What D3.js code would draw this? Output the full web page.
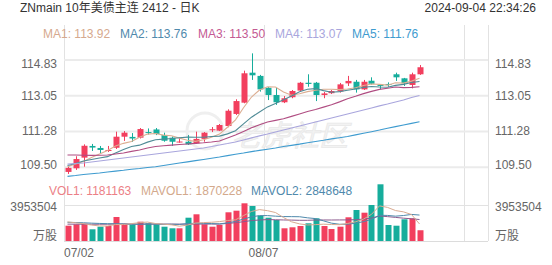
<!DOCTYPE html>
<html>
<head>
<meta charset="utf-8">
<script src="https://cdn.jsdelivr.net/npm/d3@7"></script>
<style>
  body { margin: 0; background: #fff; }
  svg text { font-family: "Liberation Sans", Arial, "Noto Sans CJK SC", sans-serif; }
</style>
</head>
<body>
<div class="visHolder"></div>
<script>
const width = 552;
const height = 265;

const dates = ["07/02","07/03","07/05","07/08","07/09","07/10","07/11","07/12","07/15","07/16",
  "07/17","07/18","07/19","07/22","07/23","07/24","07/25","07/26","07/29","07/30",
  "07/31","08/01","08/02","08/05","08/06","08/07","08/08","08/09","08/12","08/13",
  "08/14","08/15","08/16","08/19","08/20","08/21","08/22","08/23","08/26","08/27",
  "08/28","08/29","08/30","09/03","09/04"];

const open = [109.27,109.45,109.98,110.56,110.46,110.31,110.47,111.02,111.01,110.97,
  111.25,111.38,111.10,110.97,110.75,110.77,110.69,110.91,111.34,111.32,
  111.55,112.15,112.71,114.20,114.04,113.45,113.09,112.73,112.98,113.31,
  113.70,113.70,113.09,113.18,113.27,113.67,113.75,113.37,113.80,113.59,
  113.64,114.12,113.92,113.59,114.12];
const high = [109.52,110.05,110.64,110.66,110.56,110.56,111.27,111.30,111.20,111.45,
  111.43,111.45,111.22,111.03,110.97,111.10,111.27,111.25,111.50,111.65,
  112.38,112.88,114.30,115.16,114.09,113.49,113.45,113.04,113.34,113.74,
  114.12,113.74,113.24,113.34,113.69,114.04,113.84,113.84,113.97,113.62,
  113.72,114.20,113.94,114.20,114.58];
const low = [109.17,109.37,109.53,110.31,110.21,110.26,110.41,110.81,110.76,110.93,
  111.13,111.10,110.77,110.56,110.72,110.61,110.66,110.77,111.25,111.30,
  111.49,112.10,112.68,113.84,113.26,112.84,112.60,112.69,112.93,113.26,
  113.50,112.79,112.93,113.14,113.21,113.54,113.21,113.34,113.61,113.37,
  113.50,113.79,113.54,113.42,114.09];
const close = [109.47,109.91,110.57,110.48,110.36,110.36,111.02,111.22,110.93,111.40,
  111.20,111.15,110.82,110.77,110.78,110.64,110.91,111.22,111.39,111.60,
  112.31,112.79,114.17,114.07,113.37,113.09,112.73,112.93,113.29,113.70,
  113.64,113.09,113.17,113.29,113.62,113.79,113.37,113.75,113.65,113.54,
  113.59,113.97,113.67,114.12,114.47];

const ma1 = [109.53,109.66,109.79,109.99,110.16,110.34,110.56,110.69,110.78,110.99,
  111.15,111.18,111.10,111.07,110.95,110.84,110.79,110.87,110.99,111.15,
  111.49,111.86,112.46,112.99,113.34,113.50,113.49,113.24,113.08,113.15,
  113.26,113.33,113.38,113.38,113.36,113.39,113.45,113.56,113.64,113.62,
  113.58,113.70,113.68,113.78,113.92];
const ma2 = [109.59,109.69,109.81,109.89,109.96,110.03,110.21,110.38,110.53,110.60,
  110.75,110.87,110.90,110.93,110.97,111.00,110.99,110.99,111.03,111.05,
  111.16,111.32,111.66,111.99,112.25,112.50,112.67,112.85,113.04,113.25,
  113.38,113.41,113.31,113.23,113.26,113.33,113.39,113.47,113.51,113.49,
  113.48,113.57,113.62,113.71,113.76];
const ma3 = [110.11,110.11,110.10,110.09,110.10,110.11,110.16,110.21,110.29,110.36,
  110.46,110.53,110.57,110.60,110.63,110.66,110.69,110.72,110.76,110.81,
  110.96,111.10,111.28,111.46,111.61,111.75,111.83,111.91,112.03,112.15,
  112.27,112.37,112.49,112.61,112.75,112.91,113.03,113.16,113.27,113.37,
  113.43,113.49,113.46,113.47,113.50];
const ma4 = [109.66,109.69,109.71,109.76,109.81,109.86,109.91,109.96,110.01,110.06,
  110.11,110.16,110.21,110.26,110.31,110.36,110.41,110.46,110.53,110.61,
  110.68,110.76,110.86,110.96,111.06,111.15,111.25,111.35,111.45,111.55,
  111.65,111.75,111.85,111.95,112.05,112.15,112.25,112.35,112.45,112.55,
  112.64,112.74,112.84,112.97,113.07];
const ma5 = [109.05,109.09,109.14,109.18,109.22,109.27,109.31,109.35,109.40,109.44,
  109.49,109.53,109.59,109.65,109.71,109.77,109.83,109.89,109.95,110.01,
  110.08,110.15,110.21,110.28,110.34,110.40,110.46,110.53,110.59,110.65,
  110.72,110.78,110.84,110.91,110.97,111.03,111.11,111.19,111.27,111.35,
  111.44,111.52,111.60,111.68,111.76];

const volume = [1680000,1834000,1900000,1285000,1570000,1647000,2636000,1900000,1790000,2120000,
  1944000,1834000,1570000,1395000,1395000,2559000,2932000,1834000,1570000,1757000,
  3152000,3328000,4140000,3844000,2778000,2559000,2306000,1395000,1505000,1647000,
  1944000,2493000,1647000,1318000,1570000,2603000,3404000,3108000,3954000,6227000,
  1757000,1680000,2383000,2493000,1181163];
const mavol1 = [2100000,2000000,1900000,1750000,1654000,1647000,1808000,1808000,1909000,2019000,
  2078000,1918000,1852000,1773000,1628000,1751000,1970000,2023000,2058000,2130000,
  2249000,2328000,2789000,3244000,3448000,3330000,3125000,2576000,2109000,1882000,
  1759000,1797000,1847000,1810000,1794000,1926000,2108000,2401000,2928000,3859000,
  3690000,3345000,3200000,2908000,1870228];
const mavol2 = [2050000,2030000,2000000,1960000,1930000,1900000,1900000,1880000,1850000,1836000,
  1863000,1863000,1830000,1841000,1823000,1914000,1944000,1937000,1915000,1879000,
  2000000,2149000,2406000,2651000,2789000,2789000,2727000,2683000,2676000,2665000,
  2545000,2461000,2212000,1959000,1838000,1843000,1953000,2124000,2369000,2827000,
  2808000,2727000,2800000,2918000,2848648];
const mavol3 = [1850000,1850000,1845000,1840000,1840000,1845000,1850000,1850000,1855000,1855000,
  1860000,1860000,1855000,1855000,1850000,1855000,1860000,1860000,1860000,1858000,
  1931000,2006000,2118000,2246000,2306000,2352000,2335000,2310000,2296000,2272000,
  2272000,2305000,2309000,2305000,2314000,2316000,2340000,2403000,2523000,2746000,
  2676000,2594000,2506000,2439000,2359000];

const priceTicks = [114.83, 113.05, 111.28, 109.50];
const volTicks = [3953504];
const dateTicks = ["07/02", "08/07"];
const gridSlots = [0, 25, 50, 53];
const slots = 53;

const maNames = ["MA1", "MA2", "MA3", "MA4", "MA5"];
const maSeries = [ma1, ma2, ma3, ma4, ma5];
const maLine = ["#dcae92", "#4f8b96", "#b04d82", "#a9a6dd", "#3e9bcf"];
const maText = ["#d6a98e", "#4f89ac", "#c45a93", "#a9a6dd", "#3e9bcf"];
const maX = [43, 120, 198, 275, 352];

const volNames = ["VOL1", "MAVOL1", "MAVOL2"];
const volText = ["#ec7f86", "#d3a98c", "#4f89ac"];
const volX = [49, 141, 251];

const up = "#f23f5e";
const down = "#16ad9c";

const svg = d3.select(".visHolder")
  .append("svg")
  .attr("width", width)
  .attr("height", height);

const x = d3.scaleLinear().domain([0, slots]).range([63.5, 487.5]);
const cx = i => x(i + 0.5);
const y = d3.scaleLinear().domain([109.50, 114.83]).range([167.3, 60]);
const yv = d3.scaleLinear().domain([0, 3953504]).range([241, 205]);
const barW = 6;

// grid
svg.selectAll(".vgrid").data(gridSlots).enter()
  .append("line")
  .attr("x1", d => Math.round(x(d)) + 0.5)
  .attr("x2", d => Math.round(x(d)) + 0.5)
  .attr("y1", 25).attr("y2", 241)
  .style("stroke", "#e2e2e2");

svg.selectAll(".hgrid").data(priceTicks).enter()
  .append("line")
  .attr("x1", 64).attr("x2", 488)
  .attr("y1", d => y(d)).attr("y2", d => y(d))
  .style("stroke", "#ebebeb")
  .style("stroke-width", 2);

svg.selectAll(".vgridv").data(volTicks).enter()
  .append("line")
  .attr("x1", 64).attr("x2", 488)
  .attr("y1", d => Math.round(yv(d)) + 0.5).attr("y2", d => Math.round(yv(d)) + 0.5)
  .style("stroke", "#e2e2e2");

svg.append("line")
  .attr("x1", 64).attr("x2", 488)
  .attr("y1", yv(0) + 0.5).attr("y2", yv(0) + 0.5)
  .style("stroke", "#dcdcdc");

// watermark
svg.append("circle")
  .attr("cx", 205).attr("cy", 131).attr("r", 18)
  .style("fill", "none")
  .style("stroke", "#efefef")
  .style("stroke-width", 3);
svg.append("text")
  .attr("x", 232).attr("y", 146)
  .attr("font-size", 29)
  .attr("font-style", "italic")
  .style("fill", "#f3f3f3")
  .style("stroke", "#e9e9e9")
  .style("stroke-width", 0.8)
  .text("老虎社区");

// header
svg.append("text")
  .attr("x", 20).attr("y", 12)
  .attr("font-size", 12)
  .style("fill", "#333")
  .text("ZNmain 10年美债主连 2412 - 日K");

svg.append("text")
  .attr("x", 536).attr("y", 12)
  .attr("text-anchor", "end")
  .attr("font-size", 12)
  .style("fill", "#333")
  .text("2024-09-04  22:34:26");

svg.selectAll(".malegend").data(maNames).enter()
  .append("text")
  .attr("x", (d, i) => maX[i]).attr("y", 38)
  .attr("font-size", 12)
  .style("fill", (d, i) => maText[i])
  .text((d, i) => d + ": " + maSeries[i][maSeries[i].length - 1].toFixed(2));

// price labels
const labelY = (d, i) => y(d) + 4 + (i === 0 ? 4 : 0) + (i === priceTicks.length - 1 ? -2 : 0);
svg.selectAll(".pl").data(priceTicks).enter()
  .append("text")
  .attr("x", 57).attr("y", labelY)
  .attr("text-anchor", "end")
  .attr("font-size", 12)
  .style("fill", "#666")
  .text(d => d.toFixed(2));
svg.selectAll(".pr").data(priceTicks).enter()
  .append("text")
  .attr("x", 495).attr("y", labelY)
  .attr("font-size", 12)
  .style("fill", "#666")
  .text(d => d.toFixed(2));

// candles
const candles = svg.selectAll(".candle").data(dates).enter().append("g");
candles.append("line")
  .attr("x1", (d, i) => Math.round(cx(i)) + 0.5)
  .attr("x2", (d, i) => Math.round(cx(i)) + 0.5)
  .attr("y1", (d, i) => y(high[i]))
  .attr("y2", (d, i) => y(low[i]))
  .style("stroke", (d, i) => close[i] >= open[i] ? up : down);
candles.append("rect")
  .attr("x", (d, i) => Math.round(cx(i)) + 0.5 - barW / 2)
  .attr("width", barW)
  .attr("y", (d, i) => y(Math.max(open[i], close[i])))
  .attr("height", (d, i) => Math.max(1, Math.abs(y(open[i]) - y(close[i]))))
  .style("fill", (d, i) => close[i] >= open[i] ? up : down);

// moving averages
maSeries.forEach((s, k) => {
  svg.append("path")
    .datum(s)
    .attr("d", d3.line().x((d, i) => cx(i)).y(d => y(d)))
    .style("fill", "none")
    .style("stroke", maLine[k])
    .style("stroke-width", 1.1);
});

// volume
svg.selectAll(".vlegend").data(volNames).enter()
  .append("text")
  .attr("x", (d, i) => volX[i]).attr("y", 195)
  .attr("font-size", 12)
  .style("fill", (d, i) => volText[i])
  .text((d, i) => d + ": " + [volume, mavol1, mavol2][i][volume.length - 1]);

svg.selectAll(".vbar").data(volume).enter()
  .append("rect")
  .attr("x", (d, i) => Math.round(cx(i)) + 0.5 - barW / 2)
  .attr("width", barW)
  .attr("y", d => yv(d))
  .attr("height", d => yv(0) - yv(d))
  .style("fill", (d, i) => close[i] >= open[i] ? up : down);

[[mavol3, "#8c5a8e"], [mavol2, "#4f89ac"], [mavol1, "#d9ab92"]].forEach(p => {
  svg.append("path")
    .datum(p[0])
    .attr("d", d3.line().x((d, i) => cx(i)).y(d => yv(d)))
    .style("fill", "none")
    .style("stroke", p[1])
    .style("stroke-width", 1);
});

svg.selectAll(".vl").data(volTicks).enter()
  .append("text")
  .attr("x", 57).attr("y", d => yv(d) + 6)
  .attr("text-anchor", "end")
  .attr("font-size", 12)
  .style("fill", "#666")
  .text(d => d);
svg.selectAll(".vr").data(volTicks).enter()
  .append("text")
  .attr("x", 495).attr("y", d => yv(d) + 6)
  .attr("font-size", 12)
  .style("fill", "#666")
  .text(d => d);
svg.append("text")
  .attr("x", 57).attr("y", 240)
  .attr("text-anchor", "end")
  .attr("font-size", 12)
  .style("fill", "#666")
  .text("万股");
svg.append("text")
  .attr("x", 495).attr("y", 240)
  .attr("font-size", 12)
  .style("fill", "#666")
  .text("万股");

// date labels
svg.selectAll(".dl").data(dateTicks).enter()
  .append("text")
  .attr("x", d => dates.indexOf(d) === 0 ? 64 : x(dates.indexOf(d)))
  .attr("y", 257)
  .attr("text-anchor", d => dates.indexOf(d) === 0 ? "start" : "middle")
  .attr("font-size", 12)
  .style("fill", "#666")
  .text(d => d);
</script>
</body>
</html>
